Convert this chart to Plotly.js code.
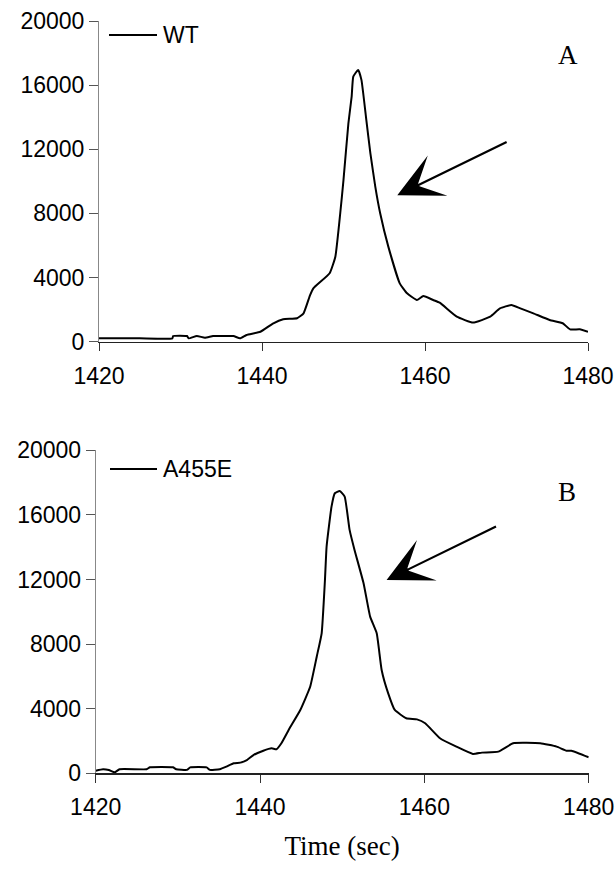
<!DOCTYPE html>
<html>
<head>
<meta charset="utf-8">
<script src="https://cdn.plot.ly/plotly-3.0.1.min.js"></script>
<style>html,body{margin:0;padding:0;background:#fff;}#chart{width:615px;height:870px;}</style>
</head>
<body>
<div id="chart"></div>
<script>
// Panel A: WT
var wtTime = [1420, 1425, 1429.0, 1429.1, 1430.8, 1431.0, 1432.0, 1433.0, 1434.0, 1435.3, 1436.5, 1437.3, 1438.1, 1439.8, 1441.4, 1442.6, 1444.3, 1445.1, 1445.9, 1446.3, 1448.3, 1449.0, 1449.6, 1450.0, 1450.6, 1451.0, 1451.2, 1451.8, 1452.2, 1452.8, 1453.3, 1453.9, 1454.5, 1455.5, 1456.9, 1457.8, 1459.0, 1459.8, 1461.0, 1461.8, 1463.9, 1465.9, 1468.0, 1469.2, 1470.6, 1471.7, 1473.3, 1475.3, 1476.9, 1477.8, 1479.0, 1480.0];
var wtSignal = [210, 210, 210, 355, 355, 210, 355, 250, 355, 355, 355, 210, 420, 620, 1150, 1400, 1460, 1770, 2910, 3330, 4270, 5300, 8010, 10090, 13620, 15280, 16530, 16950, 16330, 13830, 11750, 9670, 8010, 5930, 3640, 3020, 2600, 2850, 2600, 2430, 1560, 1190, 1560, 2080, 2290, 2080, 1770, 1350, 1150, 770, 770, 620];

// Panel B: A455E
var mutTime = [1420.0, 1420.9, 1421.6, 1422.3, 1422.9, 1426.2, 1426.6, 1429.4, 1429.8, 1431.1, 1431.5, 1433.5, 1433.9, 1435.1, 1435.9, 1436.8, 1437.6, 1438.4, 1439.2, 1440.4, 1441.4, 1442.0, 1442.6, 1443.6, 1444.9, 1446.1, 1446.9, 1447.5, 1447.9, 1448.1, 1448.7, 1449.1, 1449.7, 1450.3, 1450.9, 1451.5, 1452.6, 1453.4, 1454.2, 1454.8, 1455.6, 1456.4, 1457.8, 1459.1, 1460.1, 1461.9, 1463.9, 1465.9, 1467.0, 1469.0, 1470.8, 1474.1, 1476.1, 1477.3, 1477.9, 1480.0];
var mutSignal = [160, 250, 200, 60, 250, 250, 370, 370, 250, 210, 370, 370, 210, 250, 410, 620, 660, 820, 1130, 1400, 1550, 1490, 1860, 2790, 3920, 5360, 7220, 8670, 11970, 14030, 16510, 17340, 17480, 17130, 15070, 13830, 11770, 9700, 8670, 6400, 4950, 3920, 3410, 3340, 3100, 2170, 1650, 1200, 1280, 1340, 1860, 1860, 1650, 1400, 1400, 990];

var seriesNames = ['WT', 'A455E'];
var panelLabels = ['A', 'B'];
var xTicks = [1420, 1440, 1460, 1480];
var yTicks = [0, 4000, 8000, 12000, 16000, 20000];
var xTitle = 'Time (sec)';

// arrow tail/tip in data units [tailX, tailY, tipX, tipY]
var arrowA = [1470.2, 12500, 1456.6, 9130];
var arrowB = [1468.9, 15330, 1455.4, 11970];

var sansFont = {family: 'Liberation Sans, Arial, sans-serif', size: 23, color: '#000'};
var serifFont = {family: 'Liberation Serif, Times New Roman, serif', size: 27, color: '#000'};
var letterFont = {family: 'Liberation Serif, Times New Roman, serif', size: 27, color: '#000'};

var traces = [
  {x: wtTime, y: wtSignal, type: 'scatter', mode: 'lines', name: seriesNames[0], showlegend: false,
   line: {color: '#000', width: 2, shape: 'spline', smoothing: 0.4}, xaxis: 'x', yaxis: 'y'},
  {x: mutTime, y: mutSignal, type: 'scatter', mode: 'lines', name: seriesNames[1], showlegend: false,
   line: {color: '#000', width: 2, shape: 'spline', smoothing: 0.4}, xaxis: 'x2', yaxis: 'y2'}
];

function xAxis(domain, anchor, title) {
  var a = {domain: domain, anchor: anchor, range: [1420, 1480], tickvals: xTicks,
    ticktext: xTicks.map(String), ticks: 'outside', ticklen: 8, tickcolor: '#333', tickwidth: 1,
    ticklabelstandoff: 5,
    showline: true, linecolor: '#222', linewidth: 1.5, showgrid: false, zeroline: false,
    tickfont: sansFont, fixedrange: true};
  if (title) a.title = {text: title, font: serifFont, standoff: 16};
  return a;
}
function yAxis(domain, anchor) {
  return {domain: domain, anchor: anchor, range: [0, 20000], tickvals: yTicks,
    ticktext: yTicks.map(String), ticks: 'outside', ticklen: 9, tickcolor: '#555', tickwidth: 1,
    showline: true, linecolor: '#888', linewidth: 1, showgrid: false, zeroline: false,
    tickfont: sansFont, fixedrange: true};
}

// legend keys: short line + series name (paper coordinates)
var legendA = {x0: 109/615, x1: 157/615, y: 1 - 35/870, tx: 161/615};
var legendB = {x0: 110/615, x1: 157/615, y: 1 - 469/870, tx: 161/615};

var layout = {
  width: 615, height: 870,
  margin: {l: 0, r: 0, t: 0, b: 0},
  paper_bgcolor: '#fff', plot_bgcolor: '#fff',
  showlegend: false,
  xaxis: xAxis([99/615, 588/615], 'y'),
  yaxis: yAxis([1 - 341.7/870, 1 - 21/870], 'x'),
  xaxis2: xAxis([95.7/615, 588.7/615], 'y2', xTitle),
  yaxis2: yAxis([1 - 773.3/870, 1 - 450.3/870], 'x2'),
  shapes: [
    {type: 'line', xref: 'paper', yref: 'paper', x0: legendA.x0, x1: legendA.x1, y0: legendA.y, y1: legendA.y,
     line: {color: '#000', width: 2}},
    {type: 'line', xref: 'paper', yref: 'paper', x0: legendB.x0, x1: legendB.x1, y0: legendB.y, y1: legendB.y,
     line: {color: '#000', width: 2}}
  ],
  annotations: [
    {xref: 'paper', yref: 'paper', x: legendA.tx, y: legendA.y, text: seriesNames[0], showarrow: false,
     font: sansFont, xanchor: 'left', yanchor: 'middle'},
    {xref: 'paper', yref: 'paper', x: legendB.tx, y: legendB.y, text: seriesNames[1], showarrow: false,
     font: sansFont, xanchor: 'left', yanchor: 'middle'},
    {xref: 'x', yref: 'y', x: arrowA[2], y: arrowA[3], ax: arrowA[0], ay: arrowA[1], axref: 'x', ayref: 'y',
     showarrow: true, arrowhead: 3, arrowsize: 3.4, arrowwidth: 2.2, arrowcolor: '#000', text: ''},
    {xref: 'x2', yref: 'y2', x: arrowB[2], y: arrowB[3], ax: arrowB[0], ay: arrowB[1], axref: 'x2', ayref: 'y2',
     showarrow: true, arrowhead: 3, arrowsize: 3.4, arrowwidth: 2.2, arrowcolor: '#000', text: ''},
    {xref: 'paper', yref: 'paper', x: 568/615, y: 1 - 55/870, text: panelLabels[0], showarrow: false,
     font: letterFont, xanchor: 'center', yanchor: 'middle'},
    {xref: 'paper', yref: 'paper', x: 567/615, y: 1 - 492/870, text: panelLabels[1], showarrow: false,
     font: letterFont, xanchor: 'center', yanchor: 'middle'}
  ]
};

Plotly.newPlot('chart', traces, layout, {displayModeBar: false, staticPlot: true});
</script>
</body>
</html>
